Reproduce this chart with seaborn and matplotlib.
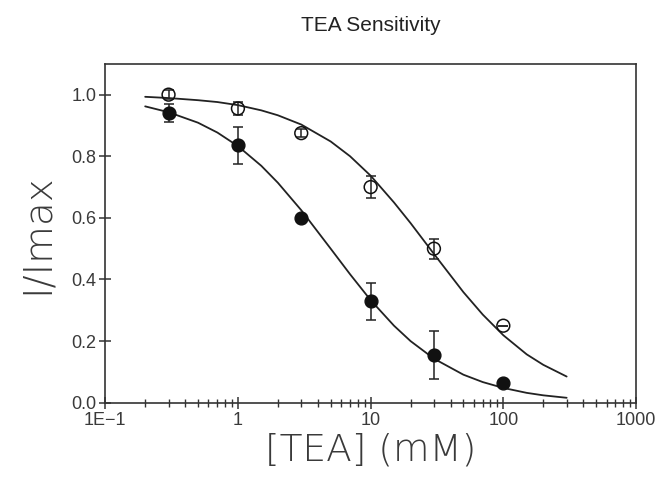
import numpy as np
import pandas as pd
import matplotlib
matplotlib.use("Agg")
import matplotlib.pyplot as plt
import matplotlib.ticker as mticker
import seaborn as sns

# ---- data ----
conc = [0.3, 1, 3, 10, 30, 100]
open_mean = [1.00, 0.955, 0.875, 0.70, 0.50, 0.25]
open_err = [0.015, 0.022, 0.012, 0.035, 0.032, 0.0]
filled_mean = [0.94, 0.835, 0.60, 0.33, 0.155, 0.065]
filled_err = [0.03, 0.06, 0.0, 0.06, 0.077, 0.0]

curve_x = [0.2, 0.3, 0.5, 0.7, 1, 1.5, 2, 3, 5, 7, 10, 15, 20, 30, 50, 70, 100, 150, 200, 300]
open_curve = [0.993, 0.989, 0.982, 0.976, 0.966, 0.949, 0.933, 0.903, 0.848, 0.80, 0.737,
              0.65, 0.583, 0.483, 0.359, 0.286, 0.219, 0.157, 0.123, 0.085]
filled_curve = [0.962, 0.943, 0.909, 0.877, 0.833, 0.769, 0.714, 0.625, 0.50, 0.417, 0.333,
                0.25, 0.20, 0.143, 0.091, 0.067, 0.048, 0.032, 0.024, 0.016]

xtick_vals = [0.1, 1, 10, 100, 1000]
xtick_labels = ["1E\u22121", "1", "10", "100", "1000"]
ytick_vals = [0.0, 0.2, 0.4, 0.6, 0.8, 1.0]

sns.set_style("ticks")
plt.rcParams['font.family'] = ['Liberation Sans', 'DejaVu Sans']

fig = plt.figure(figsize=(6.66, 4.8), dpi=100)
ax = fig.add_axes([0.158, 0.161, 0.797, 0.706])

ink = "#222222"

curves = pd.DataFrame({"x": curve_x * 2,
                       "y": open_curve + filled_curve,
                       "s": ["open"] * len(curve_x) + ["filled"] * len(curve_x)})
sns.lineplot(data=curves, x="x", y="y", units="s", estimator=None,
             color=ink, lw=1.3, ax=ax, legend=False)

ax.errorbar(conc, filled_mean, yerr=filled_err, fmt="none", ecolor=ink,
            elinewidth=1.1, capsize=3.5, capthick=1.1, zorder=3)
ax.errorbar(conc, open_mean, yerr=open_err, fmt="none", ecolor=ink,
            elinewidth=1.1, capsize=3.5, capthick=1.1, zorder=4)

pts = pd.DataFrame({"x": conc, "y": filled_mean})
sns.scatterplot(data=pts, x="x", y="y", ax=ax, s=85, color="#111111",
                edgecolor="#111111", linewidth=1, zorder=5, legend=False)
pts2 = pd.DataFrame({"x": conc, "y": open_mean})
sns.scatterplot(data=pts2, x="x", y="y", ax=ax, s=85, facecolor="none",
                edgecolor="#111111", linewidth=1.1, zorder=5, legend=False)

ax.set_xscale("log")
ax.set_xlim(0.1, 1000)
ax.set_ylim(0, 1.1)
ax.set_xticks(xtick_vals)
ax.set_xticklabels(xtick_labels)
ax.xaxis.set_minor_locator(mticker.LogLocator(base=10, subs=np.arange(2, 10)))
ax.xaxis.set_minor_formatter(mticker.NullFormatter())
ax.set_yticks(ytick_vals)
ax.set_yticklabels([f"{v:.1f}" for v in ytick_vals])

for s in ax.spines.values():
    s.set_color("#333333")
    s.set_linewidth(1.2)

ax.tick_params(axis="both", which="major", direction="inout", length=9, width=1.1,
               color="#333333", labelsize=13, labelcolor="#3a3a3a", pad=2)
ax.tick_params(axis="x", which="minor", direction="inout", length=6, width=1.0,
               color="#333333")

ax.set_xlabel("[TEA] (mM)", fontsize=27, color="#3a3a3a",
              family=["DejaVu Sans"], fontweight="light", labelpad=3)
ax.set_ylabel("I/Imax", fontsize=28, color="#3a3a3a",
              family=["DejaVu Sans"], fontweight="light", labelpad=11)
ax.set_title("TEA Sensitivity", fontsize=15, color="#222222", pad=24)

fig.savefig("out.png", dpi=100)
